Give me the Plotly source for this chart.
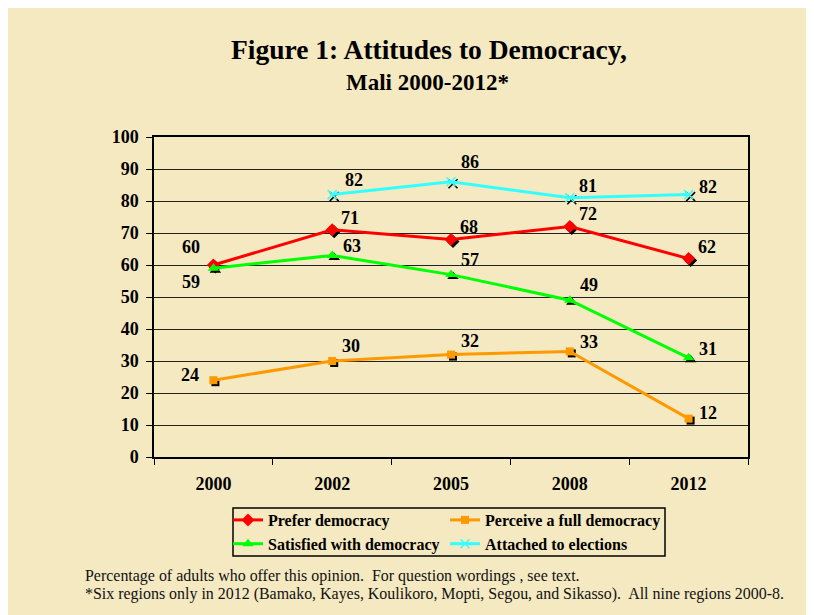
import plotly.graph_objects as go

# ---------------- data ----------------
years = ["2000", "2002", "2005", "2008", "2012"]
prefer = [60, 71, 68, 72, 62]
perceive = [24, 30, 32, 33, 12]
satisfied = [59, 63, 57, 49, 31]
attached = [None, 82, 86, 81, 82]
y_ticks = [0, 10, 20, 30, 40, 50, 60, 70, 80, 90, 100]

series_names = ["Prefer democracy", "Perceive a full democracy",
                "Satisfied with democracy", "Attached to elections"]

# ---------------- styles ----------------
BG = "#F4E9C1"
SERIF = "Liberation Serif"
colors = ["#FF0000", "#FF9900", "#00FF00", "#33FFFF"]
symbols = ["diamond", "square", "triangle-up", "x-thin"]
msizes = [10, 8, 10, 9]
series_vals = [prefer, perceive, satisfied, attached]

# label offsets in px (dx right, dy down) per series per point
label_offsets = [
    [(-22, -18), (18, -12), (18, -12), (18, -13), (18, -12)],
    [(-23, -5), (19, -15), (19, -14), (19, -9), (19, -6)],
    [(-22, 14), (20, -9), (19, -15), (19, -15), (19, -9)],
    [None, (22, -15), (19, -20), (18, -12), (19, -8)],
]

# page offset (body margin) and plot geometry in screenshot px
OFF = 8
W, H = 814, 615
L, R, T, B = 154 - OFF, 748 - OFF, 137 - OFF, 457 - OFF
pw, ph = R - L, B - T
cat_px = pw / 5.0
sx = 2.0 / cat_px        # shadow shift right (category units)
sy = 2.0 / (ph / 100.0)  # shadow shift down (value units)

def px_x(p):
    return (p - OFF - L) / pw

def px_y(p):
    return (B - (p - OFF)) / ph

fig = go.Figure()

# invisible anchor trace on the main axes
fig.add_trace(go.Scatter(x=years, y=prefer, mode="markers",
                         marker=dict(opacity=0, size=1),
                         showlegend=False, hoverinfo="skip"))

# shadows
for vals, sym, ms in zip(series_vals, symbols, msizes):
    fig.add_trace(go.Scatter(
        x=years, y=vals, mode="markers", xaxis="x2", yaxis="y2",
        marker=dict(symbol=sym, size=ms, color="#000000",
                    line=dict(color="#000000", width=1.5 if sym == "x-thin" else 0)),
        showlegend=False, hoverinfo="skip"))

# main series
for name, vals, col, sym, ms in zip(series_names, series_vals, colors, symbols, msizes):
    fig.add_trace(go.Scatter(
        x=years, y=vals, name=name, mode="lines+markers", xaxis="x3", yaxis="y3",
        line=dict(color=col, width=3),
        marker=dict(symbol=sym, size=ms, color=col,
                    line=dict(color=col, width=1.5 if sym == "x-thin" else 0)),
    ))

# data labels (x given as category index on the category axis)
annotations = []
for vals, offs in zip(series_vals, label_offsets):
    for i, (v, off) in enumerate(zip(vals, offs)):
        if v is None:
            continue
        annotations.append(dict(
            x=i, y=v, xref="x", yref="y", text=str(v), showarrow=False,
            xshift=off[0], yshift=-off[1],
            font=dict(family=SERIF, size=18, color="black", weight="bold")))

# titles
annotations.append(dict(
    x=px_x(429), y=px_y(49), xref="paper", yref="paper", showarrow=False,
    text="Figure 1: Attitudes to Democracy,", xanchor="center", yanchor="middle",
    font=dict(family=SERIF, size=27.5, color="black", weight="bold")))
annotations.append(dict(
    x=px_x(427), y=px_y(82), xref="paper", yref="paper", showarrow=False,
    text="Mali 2000-2012*", xanchor="center", yanchor="middle",
    font=dict(family=SERIF, size=23, color="black", weight="bold")))

# footnotes
annotations.append(dict(
    x=px_x(83), y=px_y(576), xref="paper", yref="paper", showarrow=False,
    text="Percentage of adults who offer this opinion.\u00a0 For question wordings , see text.",
    xanchor="left", yanchor="middle",
    font=dict(family=SERIF, size=15.95, color="#111111")))
annotations.append(dict(
    x=px_x(83), y=px_y(594), xref="paper", yref="paper", showarrow=False,
    text="*Six regions only in 2012 (Bamako, Kayes, Koulikoro, Mopti, Segou, and Sikasso).\u00a0 All nine regions 2000-8.",
    xanchor="left", yanchor="middle",
    font=dict(family=SERIF, size=15.95, color="#111111")))

axis_font = dict(family=SERIF, size=18, color="black", weight="bold")

fig.update_layout(
    width=W, height=H,
    margin=dict(l=L, r=W - R, t=T, b=H - B, pad=0),
    paper_bgcolor=BG,
    plot_bgcolor=BG,
    showlegend=True,
    xaxis=dict(
        type="category", categoryorder="array", categoryarray=years,
        range=[-0.5, 4.5], tickson="boundaries", ticks="outside", ticklen=6,
        tickcolor="black", tickwidth=1, showline=True, linecolor="black", linewidth=1.5,
        mirror=True, showgrid=False, tickfont=axis_font, ticklabelstandoff=10,
        fixedrange=True),
    yaxis=dict(
        range=[0, 100], tickvals=y_ticks, ticks="outside", ticklen=6,
        tickcolor="black", tickwidth=1, showline=True, linecolor="black", linewidth=1.5,
        mirror=True, showgrid=True, gridcolor="#222222", gridwidth=1,
        zeroline=False, tickfont=axis_font, ticklabelstandoff=4, fixedrange=True),
    xaxis2=dict(type="category", categoryorder="array", categoryarray=years,
                range=[-0.5 - sx, 4.5 - sx], overlaying="x", anchor="y2",
                visible=False, fixedrange=True),
    yaxis2=dict(range=[0 + sy, 100 + sy], overlaying="y", anchor="x2",
                visible=False, fixedrange=True),
    xaxis3=dict(type="category", categoryorder="array", categoryarray=years,
                range=[-0.5, 4.5], overlaying="x", anchor="y3",
                visible=False, fixedrange=True),
    yaxis3=dict(range=[0, 100], overlaying="y", anchor="x3",
                visible=False, fixedrange=True),
    legend=dict(
        orientation="h", x=px_x(228), y=px_y(503), xanchor="left", yanchor="top",
        bgcolor="rgba(0,0,0,0)", borderwidth=0,
        font=dict(family=SERIF, size=16, color="black", weight="bold"),
        entrywidth=172, traceorder="normal", tracegroupgap=0),
    annotations=annotations,
    shapes=[dict(type="rect", xref="paper", yref="paper", layer="above",
                 x0=px_x(233), x1=px_x(665), y0=px_y(556), y1=px_y(508),
                 fillcolor="rgba(0,0,0,0)", line=dict(color="black", width=1.5))],
)

fig.write_html("out.html")
